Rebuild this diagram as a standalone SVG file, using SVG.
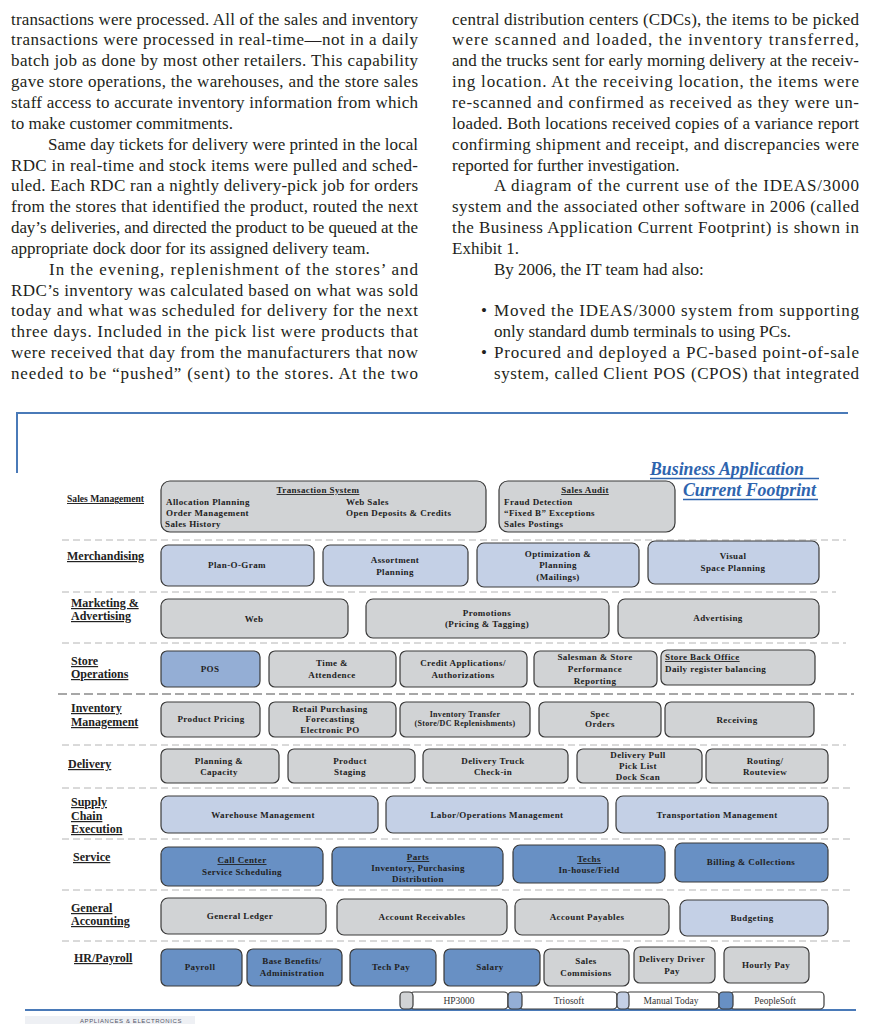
<svg xmlns="http://www.w3.org/2000/svg" width="893" height="1024" viewBox="0 0 893 1024">
<style>
.body{font-family:"Liberation Serif","Times New Roman",serif;font-size:17px;fill:#231f20}
.g{fill:#d1d3d5;stroke:#3a3a3a;stroke-width:1.2}
.lb{fill:#c4d0e6;stroke:#3a3a3a;stroke-width:1.2}
.mb{fill:#94aed5;stroke:#3a3a3a;stroke-width:1.2}
.db{fill:#6890c4;stroke:#3a3a3a;stroke-width:1.2}
.wb{fill:#ffffff;stroke:#3a3a3a;stroke-width:1.2}
.t{font-family:"Liberation Serif","Times New Roman",serif;font-weight:bold;font-size:9px;letter-spacing:0.4px;fill:#222;text-anchor:middle}
.ts{font-size:8px;letter-spacing:0.3px}
.tl{text-anchor:start}
.u{text-decoration:underline}
.lab{font-family:"Liberation Serif","Times New Roman",serif;font-weight:bold;font-size:12px;text-decoration:underline;fill:#222}
.leg{font-family:"Liberation Serif","Times New Roman",serif;font-size:9.5px;fill:#333;text-anchor:middle}
.sep{stroke:#b4b4b4;stroke-width:1;stroke-dasharray:7 4;fill:none}
.sep2{stroke:#8a8a8a;stroke-width:1.4;stroke-dasharray:9 4;fill:none}
.frame{stroke:#4a7ab8;stroke-width:2;fill:none}
.title{font-family:"Liberation Serif","Times New Roman",serif;font-weight:bold;font-style:italic;font-size:17.8px;fill:#2e64ae}
</style>

<g id="text-columns">
<text class="body" x="11" y="24.5" textLength="407" lengthAdjust="spacing">transactions were processed. All of the sales and inventory</text>
<text class="body" x="11" y="45.4" textLength="407" lengthAdjust="spacing">transactions were processed in real-time—not in a daily</text>
<text class="body" x="11" y="66.2" textLength="407" lengthAdjust="spacing">batch job as done by most other retailers. This capability</text>
<text class="body" x="11" y="87.1" textLength="407" lengthAdjust="spacing">gave store operations, the warehouses, and the store sales</text>
<text class="body" x="11" y="107.9" textLength="407" lengthAdjust="spacing">staff access to accurate inventory information from which</text>
<text class="body" x="11" y="128.8">to make customer commitments.</text>
<text class="body" x="48" y="149.6" textLength="370" lengthAdjust="spacing">Same day tickets for delivery were printed in the local</text>
<text class="body" x="11" y="170.5" textLength="407" lengthAdjust="spacing">RDC in real-time and stock items were pulled and sched-</text>
<text class="body" x="11" y="191.3" textLength="407" lengthAdjust="spacing">uled. Each RDC ran a nightly delivery-pick job for orders</text>
<text class="body" x="11" y="212.2" textLength="407" lengthAdjust="spacing">from the stores that identified the product, routed the next</text>
<text class="body" x="11" y="233" textLength="407" lengthAdjust="spacing">day’s deliveries, and directed the product to be queued at the</text>
<text class="body" x="11" y="253.9">appropriate dock door for its assigned delivery team.</text>
<text class="body" x="49" y="274.7" textLength="369" lengthAdjust="spacing">In the evening, replenishment of the stores’ and</text>
<text class="body" x="11" y="295.6" textLength="407" lengthAdjust="spacing">RDC’s inventory was calculated based on what was sold</text>
<text class="body" x="11" y="316.4" textLength="407" lengthAdjust="spacing">today and what was scheduled for delivery for the next</text>
<text class="body" x="11" y="337.3" textLength="407" lengthAdjust="spacing">three days. Included in the pick list were products that</text>
<text class="body" x="11" y="358.1" textLength="407" lengthAdjust="spacing">were received that day from the manufacturers that now</text>
<text class="body" x="11" y="379" textLength="407" lengthAdjust="spacing">needed to be “pushed” (sent) to the stores. At the two</text>

<text class="body" x="452" y="24.5" textLength="407" lengthAdjust="spacing">central distribution centers (CDCs), the items to be picked</text>
<text class="body" x="452" y="45.4" textLength="407" lengthAdjust="spacing">were scanned and loaded, the inventory transferred,</text>
<text class="body" x="452" y="66.2" textLength="407" lengthAdjust="spacing">and the trucks sent for early morning delivery at the receiv-</text>
<text class="body" x="452" y="87.1" textLength="407" lengthAdjust="spacing">ing location. At the receiving location, the items were</text>
<text class="body" x="452" y="107.9" textLength="407" lengthAdjust="spacing">re-scanned and confirmed as received as they were un-</text>
<text class="body" x="452" y="128.8" textLength="407" lengthAdjust="spacing">loaded. Both locations received copies of a variance report</text>
<text class="body" x="452" y="149.6" textLength="407" lengthAdjust="spacing">confirming shipment and receipt, and discrepancies were</text>
<text class="body" x="452" y="170.5">reported for further investigation.</text>
<text class="body" x="494" y="191.3" textLength="365" lengthAdjust="spacing">A diagram of the current use of the IDEAS/3000</text>
<text class="body" x="452" y="212.2" textLength="407" lengthAdjust="spacing">system and the associated other software in 2006 (called</text>
<text class="body" x="452" y="233" textLength="407" lengthAdjust="spacing">the Business Application Current Footprint) is shown in</text>
<text class="body" x="452" y="253.9">Exhibit 1.</text>
<text class="body" x="494" y="274.7">By 2006, the IT team had also:</text>
<text class="body" x="481" y="316.4">•</text>
<text class="body" x="494" y="316.4" textLength="365" lengthAdjust="spacing">Moved the IDEAS/3000 system from supporting</text>
<text class="body" x="494" y="337.3">only standard dumb terminals to using PCs.</text>
<text class="body" x="481" y="358.1">•</text>
<text class="body" x="494" y="358.1" textLength="365" lengthAdjust="spacing">Procured and deployed a PC-based point-of-sale</text>
<text class="body" x="494" y="379" textLength="365" lengthAdjust="spacing">system, called Client POS (CPOS) that integrated</text>
</g>

<g id="frame">
<line class="frame" x1="17" y1="413" x2="848" y2="413"/>
<line class="frame" x1="17" y1="412" x2="17" y2="473"/>
<line class="frame" x1="25" y1="1010" x2="856" y2="1010"/>
<rect x="25" y="1016" width="170" height="8" fill="#eef0f4"/>
<text x="80" y="1023" font-family="Liberation Sans, Arial, sans-serif" font-size="6" fill="#556" letter-spacing="0.6">APPLIANCES &amp; ELECTRONICS</text>
</g>

<g id="title">
<text class="title" x="650" y="475">Business Application</text>
<line x1="650" y1="478.5" x2="819" y2="478.5" stroke="#2e64ae" stroke-width="1.3"/>
<text class="title" x="683" y="496">Current Footprint</text>
<line x1="683" y1="499.5" x2="818" y2="499.5" stroke="#2e64ae" stroke-width="1.3"/>
</g>

<g id="connectors">
<line class="sep" x1="62" y1="540" x2="846" y2="540"/>
<line class="sep" x1="62" y1="592" x2="836" y2="592"/>
<line class="sep" x1="62" y1="643" x2="846" y2="643"/>
<line class="sep2" x1="58" y1="694" x2="854" y2="694"/>
<line class="sep" x1="62" y1="745" x2="846" y2="745"/>
<line class="sep" x1="62" y1="788" x2="854" y2="788"/>
<line class="sep" x1="62" y1="839" x2="854" y2="839"/>
<line class="sep" x1="62" y1="890" x2="854" y2="890"/>
<line class="sep" x1="62" y1="941" x2="854" y2="941"/>
</g>

<g id="row-labels">
<text class="lab" x="67" y="502" style="font-size:9.6px">Sales Management</text>
<text class="lab" x="67" y="560">Merchandising</text>
<text class="lab" x="71" y="607">Marketing &amp;</text>
<text class="lab" x="71" y="620">Advertising</text>
<text class="lab" x="71" y="665">Store</text>
<text class="lab" x="71" y="678">Operations</text>
<text class="lab" x="71" y="712">Inventory</text>
<text class="lab" x="71" y="726">Management</text>
<text class="lab" x="68" y="768">Delivery</text>
<text class="lab" x="71" y="806">Supply</text>
<text class="lab" x="71" y="820">Chain</text>
<text class="lab" x="71" y="833">Execution</text>
<text class="lab" x="73" y="861">Service</text>
<text class="lab" x="71" y="912">General</text>
<text class="lab" x="71" y="925">Accounting</text>
<text class="lab" x="74" y="962">HR/Payroll</text>
</g>

<g id="transaction-system">
<rect class="g" x="161" y="481" width="325" height="51" rx="9"/>
<text class="t u" x="318" y="493">Transaction System</text>
<text class="t tl" x="166" y="505">Allocation Planning</text>
<text class="t tl" x="166" y="516">Order Management</text>
<text class="t tl" x="165" y="527">Sales History</text>
<text class="t tl" x="346" y="505">Web Sales</text>
<text class="t tl" x="346" y="516">Open Deposits &amp; Credits</text>
</g>
<g id="sales-audit">
<rect class="g" x="499" y="481" width="176" height="51" rx="9"/>
<text class="t u" x="585" y="493">Sales Audit</text>
<text class="t tl" x="504" y="505">Fraud Detection</text>
<text class="t tl" x="504" y="516">“Fixed B” Exceptions</text>
<text class="t tl" x="504" y="527">Sales Postings</text>
</g>

<g id="plan-o-gram"><rect class="lb" x="161" y="545" width="153" height="41" rx="7"/><text class="t" x="237" y="568">Plan-O-Gram</text></g>
<g id="assortment-planning"><rect class="lb" x="323" y="545" width="145" height="41" rx="7"/><text class="t" x="395" y="563">Assortment</text><text class="t" x="395" y="575">Planning</text></g>
<g id="optimization-planning"><rect class="lb" x="477" y="543" width="162" height="44" rx="7"/><text class="t" x="558" y="557">Optimization &amp;</text><text class="t" x="558" y="568">Planning</text><text class="t" x="558" y="580">(Mailings)</text></g>
<g id="visual-space-planning"><rect class="lb" x="648" y="541" width="171" height="43" rx="7"/><text class="t" x="733" y="559">Visual</text><text class="t" x="733" y="571">Space Planning</text></g>

<g id="web"><rect class="g" x="161" y="599" width="187" height="39" rx="7"/><text class="t" x="254" y="622">Web</text></g>
<g id="promotions"><rect class="g" x="366" y="599" width="243" height="39" rx="7"/><text class="t" x="487" y="616">Promotions</text><text class="t" x="487" y="627">(Pricing &amp; Tagging)</text></g>
<g id="advertising"><rect class="g" x="618" y="599" width="201" height="39" rx="7"/><text class="t" x="718" y="621">Advertising</text></g>

<g id="pos"><rect class="mb" x="161" y="651" width="99" height="36" rx="6"/><text class="t" x="210" y="672">POS</text></g>
<g id="time-attendence"><rect class="g" x="269" y="651" width="127" height="36" rx="6"/><text class="t" x="332" y="666">Time &amp;</text><text class="t" x="332" y="678">Attendence</text></g>
<g id="credit-applications"><rect class="g" x="400" y="651" width="127" height="36" rx="6"/><text class="t" x="463" y="666">Credit Applications/</text><text class="t" x="463" y="678">Authorizations</text></g>
<g id="salesman-performance"><rect class="g" x="534" y="651" width="123" height="36" rx="6"/><text class="t" x="595" y="660">Salesman &amp; Store</text><text class="t" x="595" y="672">Performance</text><text class="t" x="595" y="684">Reporting</text></g>
<g id="store-back-office"><rect class="g" x="661" y="650" width="154" height="35" rx="6"/><text class="t tl u" x="665" y="660">Store Back Office</text><text class="t tl" x="665" y="672">Daily register balancing</text></g>

<g id="product-pricing"><rect class="g" x="161" y="702" width="99" height="35" rx="6"/><text class="t" x="211" y="722">Product Pricing</text></g>
<g id="retail-purchasing"><rect class="g" x="269" y="702" width="127" height="35" rx="6"/><text class="t" x="330" y="712">Retail Purchasing</text><text class="t" x="330" y="722">Forecasting</text><text class="t" x="330" y="733">Electronic PO</text></g>
<g id="inventory-transfer"><rect class="g" x="400" y="702" width="130" height="35" rx="6"/><text class="t ts" x="465" y="717">Inventory Transfer</text><text class="t ts" x="465" y="726">(Store/DC Replenishments)</text></g>
<g id="spec-orders"><rect class="g" x="539" y="702" width="122" height="35" rx="6"/><text class="t" x="600" y="717">Spec</text><text class="t" x="600" y="727">Orders</text></g>
<g id="receiving"><rect class="g" x="665" y="702" width="149" height="35" rx="6"/><text class="t" x="737" y="723">Receiving</text></g>

<g id="planning-capacity"><rect class="g" x="161" y="749" width="118" height="34" rx="6"/><text class="t" x="219" y="764">Planning &amp;</text><text class="t" x="219" y="775">Capacity</text></g>
<g id="product-staging"><rect class="g" x="288" y="749" width="127" height="34" rx="6"/><text class="t" x="350" y="764">Product</text><text class="t" x="350" y="775">Staging</text></g>
<g id="delivery-truck"><rect class="g" x="423" y="749" width="145" height="34" rx="6"/><text class="t" x="493" y="764">Delivery Truck</text><text class="t" x="493" y="775">Check-in</text></g>
<g id="delivery-pull"><rect class="g" x="577" y="749" width="125" height="34" rx="6"/><text class="t" x="638" y="758">Delivery Pull</text><text class="t" x="638" y="769">Pick List</text><text class="t" x="638" y="780">Dock Scan</text></g>
<g id="routing"><rect class="g" x="706" y="749" width="122" height="34" rx="6"/><text class="t" x="765" y="764">Routing/</text><text class="t" x="765" y="775">Routeview</text></g>

<g id="warehouse-management"><rect class="lb" x="161" y="796" width="217" height="37" rx="7"/><text class="t" x="263" y="818">Warehouse Management</text></g>
<g id="labor-operations"><rect class="lb" x="386" y="796" width="222" height="37" rx="7"/><text class="t" x="497" y="818">Labor/Operations Management</text></g>
<g id="transportation-management"><rect class="lb" x="616" y="796" width="212" height="37" rx="7"/><text class="t" x="717" y="818">Transportation Management</text></g>

<g id="call-center"><rect class="db" x="161" y="847" width="162" height="39" rx="7"/><text class="t u" x="242" y="863">Call Center</text><text class="t" x="242" y="875">Service Scheduling</text></g>
<g id="parts"><rect class="db" x="332" y="847" width="171" height="39" rx="7"/><text class="t u" x="418" y="860">Parts</text><text class="t" x="418" y="871">Inventory, Purchasing</text><text class="t" x="418" y="882">Distribution</text></g>
<g id="techs"><rect class="db" x="513" y="845" width="152" height="38" rx="7"/><text class="t u" x="589" y="862">Techs</text><text class="t" x="589" y="873">In-house/Field</text></g>
<g id="billing-collections"><rect class="db" x="675" y="843" width="153" height="39" rx="7"/><text class="t" x="751" y="865">Billing &amp; Collections</text></g>

<g id="general-ledger"><rect class="g" x="161" y="898" width="165" height="36" rx="7"/><text class="t" x="240" y="919">General Ledger</text></g>
<g id="account-receivables"><rect class="g" x="337" y="899" width="170" height="36" rx="7"/><text class="t" x="422" y="920">Account Receivables</text></g>
<g id="account-payables"><rect class="g" x="515" y="899" width="154" height="36" rx="7"/><text class="t" x="587" y="920">Account Payables</text></g>
<g id="budgeting"><rect class="lb" x="680" y="900" width="148" height="36" rx="7"/><text class="t" x="752" y="921">Budgeting</text></g>

<g id="payroll"><rect class="db" x="161" y="949" width="81" height="37" rx="6"/><text class="t" x="200" y="970">Payroll</text></g>
<g id="base-benefits"><rect class="db" x="247" y="949" width="95" height="37" rx="6"/><text class="t" x="292" y="964">Base Benefits/</text><text class="t" x="292" y="976">Administration</text></g>
<g id="tech-pay"><rect class="db" x="350" y="949" width="86" height="37" rx="6"/><text class="t" x="391" y="970">Tech Pay</text></g>
<g id="salary"><rect class="db" x="444" y="949" width="96" height="37" rx="6"/><text class="t" x="490" y="970">Salary</text></g>
<g id="sales-commisions"><rect class="g" x="544" y="949" width="85" height="37" rx="6"/><text class="t" x="586" y="964">Sales</text><text class="t" x="586" y="976">Commisions</text></g>
<g id="delivery-driver-pay"><rect class="g" x="634" y="947" width="81" height="36" rx="6"/><text class="t" x="672" y="962">Delivery Driver</text><text class="t" x="672" y="974">Pay</text></g>
<g id="hourly-pay"><rect class="g" x="724" y="947" width="85" height="36" rx="6"/><text class="t" x="766" y="968">Hourly Pay</text></g>

<g id="legend-hp3000"><rect class="wb" x="410" y="992" width="98" height="17" rx="4"/><rect class="g" x="400" y="992" width="13" height="17" rx="4"/><text class="leg" x="459" y="1004">HP3000</text></g>
<g id="legend-triosoft"><rect class="wb" x="519" y="992" width="98" height="17" rx="4"/><rect class="mb" x="508" y="992" width="14" height="17" rx="4"/><text class="leg" x="569" y="1004">Triosoft</text></g>
<g id="legend-manual-today"><rect class="wb" x="626" y="992" width="93" height="17" rx="4"/><rect class="lb" x="617" y="992" width="12" height="17" rx="4"/><text class="leg" x="671" y="1004">Manual Today</text></g>
<g id="legend-peoplesoft"><rect class="wb" x="730" y="992" width="94" height="17" rx="4"/><rect class="db" x="719" y="992" width="14" height="17" rx="4"/><text class="leg" x="775" y="1004">PeopleSoft</text></g>
</svg>
